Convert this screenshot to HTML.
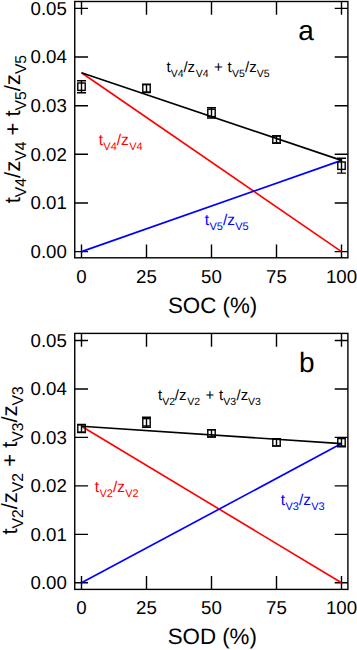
<!DOCTYPE html>
<html><head><meta charset="utf-8"><style>
html,body{margin:0;padding:0;background:#fff;width:357px;height:650px;overflow:hidden}
svg{display:block}
text{font-family:"Liberation Sans",sans-serif;text-rendering:geometricPrecision}
.tk{font-size:18.7px}
.ax{font-size:22.3px}
.ay{font-size:22px}
.sa{font-size:15.7px}
.lt{font-size:28px}
</style></head><body>
<svg width="357" height="650" viewBox="0 0 357 650">
<rect width="357" height="650" fill="#fff"/>
<rect x="74.75" y="1.5" width="273.15" height="256.30" fill="none" stroke="#000" stroke-width="1.4"/>
<path d="M74.75 251.60H88.05M347.9 251.60H334.7" stroke="#000" stroke-width="1.4"/>
<text x="66.9" y="257.90" text-anchor="end" class="tk">0.00</text>
<path d="M74.75 202.96H88.05M347.9 202.96H334.7" stroke="#000" stroke-width="1.4"/>
<text x="66.9" y="209.26" text-anchor="end" class="tk">0.01</text>
<path d="M74.75 154.32H88.05M347.9 154.32H334.7" stroke="#000" stroke-width="1.4"/>
<text x="66.9" y="160.62" text-anchor="end" class="tk">0.02</text>
<path d="M74.75 105.68H88.05M347.9 105.68H334.7" stroke="#000" stroke-width="1.4"/>
<text x="66.9" y="111.98" text-anchor="end" class="tk">0.03</text>
<path d="M74.75 57.04H88.05M347.9 57.04H334.7" stroke="#000" stroke-width="1.4"/>
<text x="66.9" y="63.34" text-anchor="end" class="tk">0.04</text>
<path d="M74.75 8.40H88.05M347.9 8.40H334.7" stroke="#000" stroke-width="1.4"/>
<text x="66.9" y="14.70" text-anchor="end" class="tk">0.05</text>
<path d="M81.50 257.8V244.4M81.50 1.5V14.8" stroke="#000" stroke-width="1.4"/>
<text x="81.50" y="283.0" text-anchor="middle" class="tk">0</text>
<path d="M146.50 257.8V244.4M146.50 1.5V14.8" stroke="#000" stroke-width="1.4"/>
<text x="146.50" y="283.0" text-anchor="middle" class="tk">25</text>
<path d="M211.50 257.8V244.4M211.50 1.5V14.8" stroke="#000" stroke-width="1.4"/>
<text x="211.50" y="283.0" text-anchor="middle" class="tk">50</text>
<path d="M276.50 257.8V244.4M276.50 1.5V14.8" stroke="#000" stroke-width="1.4"/>
<text x="276.50" y="283.0" text-anchor="middle" class="tk">75</text>
<path d="M341.50 257.8V244.4M341.50 1.5V14.8" stroke="#000" stroke-width="1.4"/>
<text x="341.50" y="283.0" text-anchor="middle" class="tk">100</text>
<line x1="81.50" y1="72.8" x2="341.50" y2="251.6" stroke="#f00" stroke-width="1.65"/>
<line x1="81.50" y1="251.6" x2="341.50" y2="160.4" stroke="#00f" stroke-width="1.65"/>
<line x1="81.50" y1="72.8" x2="341.50" y2="160.4" stroke="#000" stroke-width="1.65"/>
<rect x="77.80" y="83.00" width="7.4" height="7.4" fill="none" stroke="#000" stroke-width="1.4"/>
<path d="M81.50 80.70V92.70M77.00 80.70H86.00M77.00 92.70H86.00" stroke="#000" stroke-width="1.4" fill="none"/>
<rect x="142.80" y="84.65" width="7.4" height="7.4" fill="none" stroke="#000" stroke-width="1.4"/>
<path d="M146.50 84.15V92.55M142.00 84.15H151.00M142.00 92.55H151.00" stroke="#000" stroke-width="1.4" fill="none"/>
<rect x="207.80" y="109.20" width="7.4" height="7.4" fill="none" stroke="#000" stroke-width="1.4"/>
<path d="M211.50 107.80V118.00M207.00 107.80H216.00M207.00 118.00H216.00" stroke="#000" stroke-width="1.4" fill="none"/>
<rect x="272.80" y="135.80" width="7.4" height="7.4" fill="none" stroke="#000" stroke-width="1.4"/>
<path d="M276.50 136.00V143.00M272.00 136.00H281.00M272.00 143.00H281.00" stroke="#000" stroke-width="1.4" fill="none"/>
<rect x="337.80" y="162.00" width="7.4" height="7.4" fill="none" stroke="#000" stroke-width="1.4"/>
<path d="M341.50 158.30V173.10M337.00 158.30H346.00M337.00 173.10H346.00" stroke="#000" stroke-width="1.4" fill="none"/>
<text x="298.2" y="40.3" class="lt">a</text>
<text x="168.0" y="312.9" class="ax">SOC (%)</text>
<text transform="translate(19.8 129.1) rotate(-90)" text-anchor="middle" class="ay">t<tspan class="sa" dy="5.8">V4</tspan><tspan dy="-5.8">/z</tspan><tspan class="sa" dy="5.8">V4</tspan><tspan dy="-5.8"> + t</tspan><tspan class="sa" dy="5.8">V5</tspan><tspan dy="-5.8">/z</tspan><tspan class="sa" dy="5.8">V5</tspan></text>
<text fill="#000" style="font-size:15px"><tspan x="166.57" y="71.90">t</tspan><tspan x="170.86" y="77.00" style="font-size:10.5px">V4</tspan><tspan x="183.45" y="71.90">/z</tspan><tspan x="195.86" y="77.00" style="font-size:10.5px">V4</tspan><tspan x="214.06" y="71.90">+</tspan><tspan x="227.47" y="71.90">t</tspan><tspan x="231.91" y="77.00" style="font-size:10.5px">V5</tspan><tspan x="245.10" y="71.90">/z</tspan><tspan x="256.66" y="77.00" style="font-size:10.5px">V5</tspan></text>
<text fill="#f00" style="font-size:15.5px"><tspan x="98.77" y="144.80">t</tspan><tspan x="103.36" y="149.80" style="font-size:11px">V4</tspan><tspan x="116.80" y="144.80">/z</tspan><tspan x="129.16" y="149.80" style="font-size:11px">V4</tspan></text>
<text fill="#00f" style="font-size:15.5px"><tspan x="204.87" y="224.90">t</tspan><tspan x="209.46" y="229.90" style="font-size:11px">V5</tspan><tspan x="222.90" y="224.90">/z</tspan><tspan x="235.26" y="229.90" style="font-size:11px">V5</tspan></text>
<rect x="74.75" y="333.4" width="273.15" height="256.00" fill="none" stroke="#000" stroke-width="1.4"/>
<path d="M74.75 582.80H88.05M347.9 582.80H334.7" stroke="#000" stroke-width="1.4"/>
<text x="66.9" y="589.10" text-anchor="end" class="tk">0.00</text>
<path d="M74.75 534.34H88.05M347.9 534.34H334.7" stroke="#000" stroke-width="1.4"/>
<text x="66.9" y="540.64" text-anchor="end" class="tk">0.01</text>
<path d="M74.75 485.88H88.05M347.9 485.88H334.7" stroke="#000" stroke-width="1.4"/>
<text x="66.9" y="492.18" text-anchor="end" class="tk">0.02</text>
<path d="M74.75 437.42H88.05M347.9 437.42H334.7" stroke="#000" stroke-width="1.4"/>
<text x="66.9" y="443.72" text-anchor="end" class="tk">0.03</text>
<path d="M74.75 388.96H88.05M347.9 388.96H334.7" stroke="#000" stroke-width="1.4"/>
<text x="66.9" y="395.26" text-anchor="end" class="tk">0.04</text>
<path d="M74.75 340.50H88.05M347.9 340.50H334.7" stroke="#000" stroke-width="1.4"/>
<text x="66.9" y="346.80" text-anchor="end" class="tk">0.05</text>
<path d="M81.50 589.4V576.0M81.50 333.4V346.7" stroke="#000" stroke-width="1.4"/>
<text x="81.50" y="614.0" text-anchor="middle" class="tk">0</text>
<path d="M146.50 589.4V576.0M146.50 333.4V346.7" stroke="#000" stroke-width="1.4"/>
<text x="146.50" y="614.0" text-anchor="middle" class="tk">25</text>
<path d="M211.50 589.4V576.0M211.50 333.4V346.7" stroke="#000" stroke-width="1.4"/>
<text x="211.50" y="614.0" text-anchor="middle" class="tk">50</text>
<path d="M276.50 589.4V576.0M276.50 333.4V346.7" stroke="#000" stroke-width="1.4"/>
<text x="276.50" y="614.0" text-anchor="middle" class="tk">75</text>
<path d="M341.50 589.4V576.0M341.50 333.4V346.7" stroke="#000" stroke-width="1.4"/>
<text x="341.50" y="614.0" text-anchor="middle" class="tk">100</text>
<line x1="81.50" y1="426.2" x2="341.50" y2="582.8" stroke="#f00" stroke-width="1.65"/>
<line x1="81.50" y1="582.8" x2="341.50" y2="443.6" stroke="#00f" stroke-width="1.65"/>
<line x1="81.50" y1="426.2" x2="341.50" y2="443.6" stroke="#000" stroke-width="1.65"/>
<rect x="77.80" y="424.80" width="7.4" height="7.4" fill="none" stroke="#000" stroke-width="1.4"/>
<path d="M81.50 424.50V432.50M77.00 424.50H86.00M77.00 432.50H86.00" stroke="#000" stroke-width="1.4" fill="none"/>
<rect x="142.80" y="418.60" width="7.4" height="7.4" fill="none" stroke="#000" stroke-width="1.4"/>
<path d="M146.50 417.30V427.30M142.00 417.30H151.00M142.00 427.30H151.00" stroke="#000" stroke-width="1.4" fill="none"/>
<rect x="207.80" y="429.70" width="7.4" height="7.4" fill="none" stroke="#000" stroke-width="1.4"/>
<path d="M211.50 429.90V436.90M207.00 429.90H216.00M207.00 436.90H216.00" stroke="#000" stroke-width="1.4" fill="none"/>
<rect x="272.80" y="438.70" width="7.4" height="7.4" fill="none" stroke="#000" stroke-width="1.4"/>
<path d="M276.50 438.90V445.90M272.00 438.90H281.00M272.00 445.90H281.00" stroke="#000" stroke-width="1.4" fill="none"/>
<rect x="337.80" y="438.60" width="7.4" height="7.4" fill="none" stroke="#000" stroke-width="1.4"/>
<path d="M341.50 437.80V446.80M337.00 437.80H346.00M337.00 446.80H346.00" stroke="#000" stroke-width="1.4" fill="none"/>
<text x="298.9" y="371.8" class="lt">b</text>
<text x="167.7" y="644.3" class="ax">SOD (%)</text>
<text transform="translate(17.3 460.4) rotate(-90)" text-anchor="middle" class="ay">t<tspan class="sa" dy="5.8">V2</tspan><tspan dy="-5.8">/z</tspan><tspan class="sa" dy="5.8">V2</tspan><tspan dy="-5.8"> + t</tspan><tspan class="sa" dy="5.8">V3</tspan><tspan dy="-5.8">/z</tspan><tspan class="sa" dy="5.8">V3</tspan></text>
<text fill="#000" style="font-size:15px"><tspan x="157.97" y="399.90">t</tspan><tspan x="162.26" y="405.00" style="font-size:10.5px">V2</tspan><tspan x="174.85" y="399.90">/z</tspan><tspan x="187.26" y="405.00" style="font-size:10.5px">V2</tspan><tspan x="205.46" y="399.90">+</tspan><tspan x="218.88" y="399.90">t</tspan><tspan x="223.31" y="405.00" style="font-size:10.5px">V3</tspan><tspan x="236.50" y="399.90">/z</tspan><tspan x="248.06" y="405.00" style="font-size:10.5px">V3</tspan></text>
<text fill="#f00" style="font-size:15.5px"><tspan x="94.87" y="491.70">t</tspan><tspan x="99.46" y="496.70" style="font-size:11px">V2</tspan><tspan x="112.90" y="491.70">/z</tspan><tspan x="125.26" y="496.70" style="font-size:11px">V2</tspan></text>
<text fill="#00f" style="font-size:15.5px"><tspan x="280.87" y="505.40">t</tspan><tspan x="285.46" y="510.40" style="font-size:11px">V3</tspan><tspan x="298.90" y="505.40">/z</tspan><tspan x="311.26" y="510.40" style="font-size:11px">V3</tspan></text>
</svg>
</body></html>
